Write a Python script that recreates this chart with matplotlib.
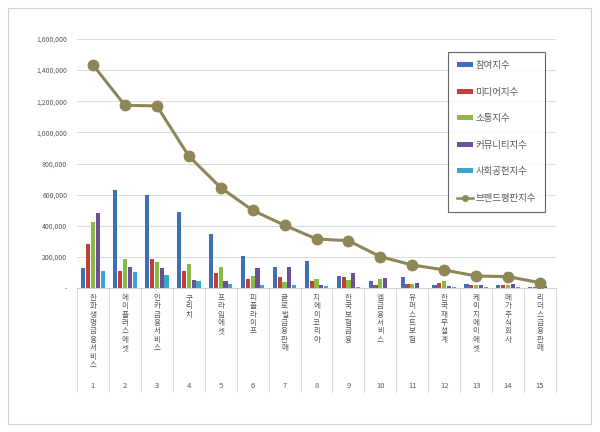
import matplotlib
matplotlib.use("Agg")
import matplotlib.pyplot as plt
import matplotlib.transforms as mtransforms
from matplotlib.patches import Rectangle
import numpy as np

plt.rcParams['font.family'] = ['Noto Sans CJK KR', 'DejaVu Sans']

# data
names = ['한화생명금융서비스', '에이플러스에셋', '인카금융서비스', '굿리치', '프라임에셋',
         '피플라이프', '글로벌금융판매', '지에이코리아', '한국보험금융', '엠금융서비스',
         '유퍼스트보험', '한국재무설계', '케이지에이에셋', '메가주식회사', '리더스금융판매']
ranks = [str(i) for i in range(1, 16)]
series_names = ['참여지수', '미디어지수', '소통지수', '커뮤니티지수', '사회공헌지수']
participation = [127000, 630000, 598000, 486000, 345000, 204000, 137000, 175000, 77000, 47000, 68000, 17000, 26000, 21000, 6000]
media = [283000, 111000, 188000, 107000, 94000, 60000, 69000, 48000, 69000, 19000, 25000, 34000, 19000, 17000, 9000]
communication = [426000, 188000, 167000, 152000, 133000, 77000, 40000, 56000, 49000, 58000, 27000, 47000, 19000, 17000, 11000]
community = [482000, 137000, 127000, 51000, 43000, 130000, 134000, 18000, 96000, 62000, 32000, 13000, 17000, 26000, 15000]
social = [111000, 101000, 84000, 47000, 26000, 21000, 17000, 13000, 6000, 2000, 2000, 4000, 4000, 4000, 2000]
brand = [1433000, 1174000, 1170000, 848000, 645000, 499000, 403000, 315000, 304000, 201000, 148000, 116000, 77000, 73000, 34000]

bar_colors = ['#3F6FB5', '#C0403C', '#8DB846', '#6B4F98', '#3AA7C8']
line_color = '#8E8656'
text_color = '#595959'

fig = plt.figure(figsize=(6, 4.32), dpi=100)
# outer chart border
fig.patches.append(Rectangle((8 / 600, 1 - 424 / 432), 583 / 600, 416 / 432,
                             transform=fig.transFigure, fill=False,
                             edgecolor='#D0D0D0', linewidth=0.8))

ax = fig.add_axes([77 / 600, 1 - 288 / 432, 479 / 600, 249 / 432])

x = np.arange(len(names))
all_series = [participation, media, communication, community, social]
step = 0.152
handles = []
for k, (vals, col, lab) in enumerate(zip(all_series, bar_colors, series_names)):
    bc = ax.bar(x + (k - 2) * step, vals, width=0.13, color=col, label=lab, zorder=2)
    handles.append(bc)

ln, = ax.plot(x, brand, color=line_color, linewidth=2.2, marker='o', markersize=7.5,
              label='브랜드평판지수', zorder=3)

ax.set_xlim(-0.5, len(names) - 0.5)
ax.set_ylim(0, 1600000)
ax.set_yticks(np.arange(0, 1600001, 200000))
ax.set_yticklabels(['-' if v == 0 else f'{v:,.0f}' for v in np.arange(0, 1600001, 200000)],
                   fontsize=5, color=text_color)
ax.tick_params(axis='y', length=0, pad=7)
ax.set_xticks([])
ax.grid(axis='y', color='#DCDCDC', linewidth=0.75, zorder=0)
ax.set_axisbelow(True)
for s in ['top', 'right', 'left']:
    ax.spines[s].set_visible(False)
ax.spines['bottom'].set_color('#D0D0D0')
ax.spines['bottom'].set_linewidth(0.8)

# multi-level category axis
trans = mtransforms.blended_transform_factory(ax.transData, ax.transAxes)
for b in np.arange(-0.5, len(names), 1.0):
    ax.plot([b, b], [0, -(392 - 288) / 249], transform=trans, color='#D9D9D9',
            linewidth=0.7, clip_on=False)
for i, (nm, rk) in enumerate(zip(names, ranks)):
    ax.text(i, -(294 - 288) / 249, '\n'.join(nm), transform=trans, ha='center', va='top',
            fontsize=5.5, color=text_color, linespacing=1.06)
    ax.text(i, -(386 - 288) / 249, rk, transform=trans, ha='center', va='center',
            fontsize=5.5, color=text_color)

handles.append(ln)
leg = fig.legend(handles, series_names + ['브랜드평판지수'],
                 loc='upper left', bbox_to_anchor=(448 / 600, 1 - 52 / 432),
                 fontsize=6.8, frameon=True, fancybox=False, labelspacing=1.86,
                 handlelength=1.7, handleheight=0.4, handletextpad=0.25,
                 borderpad=0.95, borderaxespad=0)
leg.get_frame().set_edgecolor('#404040')
leg.get_frame().set_linewidth(0.8)
for t in leg.get_texts():
    t.set_color(text_color)
leg.legend_handles[-1].set_markersize(4)
leg.legend_handles[-1].set_linewidth(1.8)

fig.savefig('out.png', dpi=100, facecolor='white')
